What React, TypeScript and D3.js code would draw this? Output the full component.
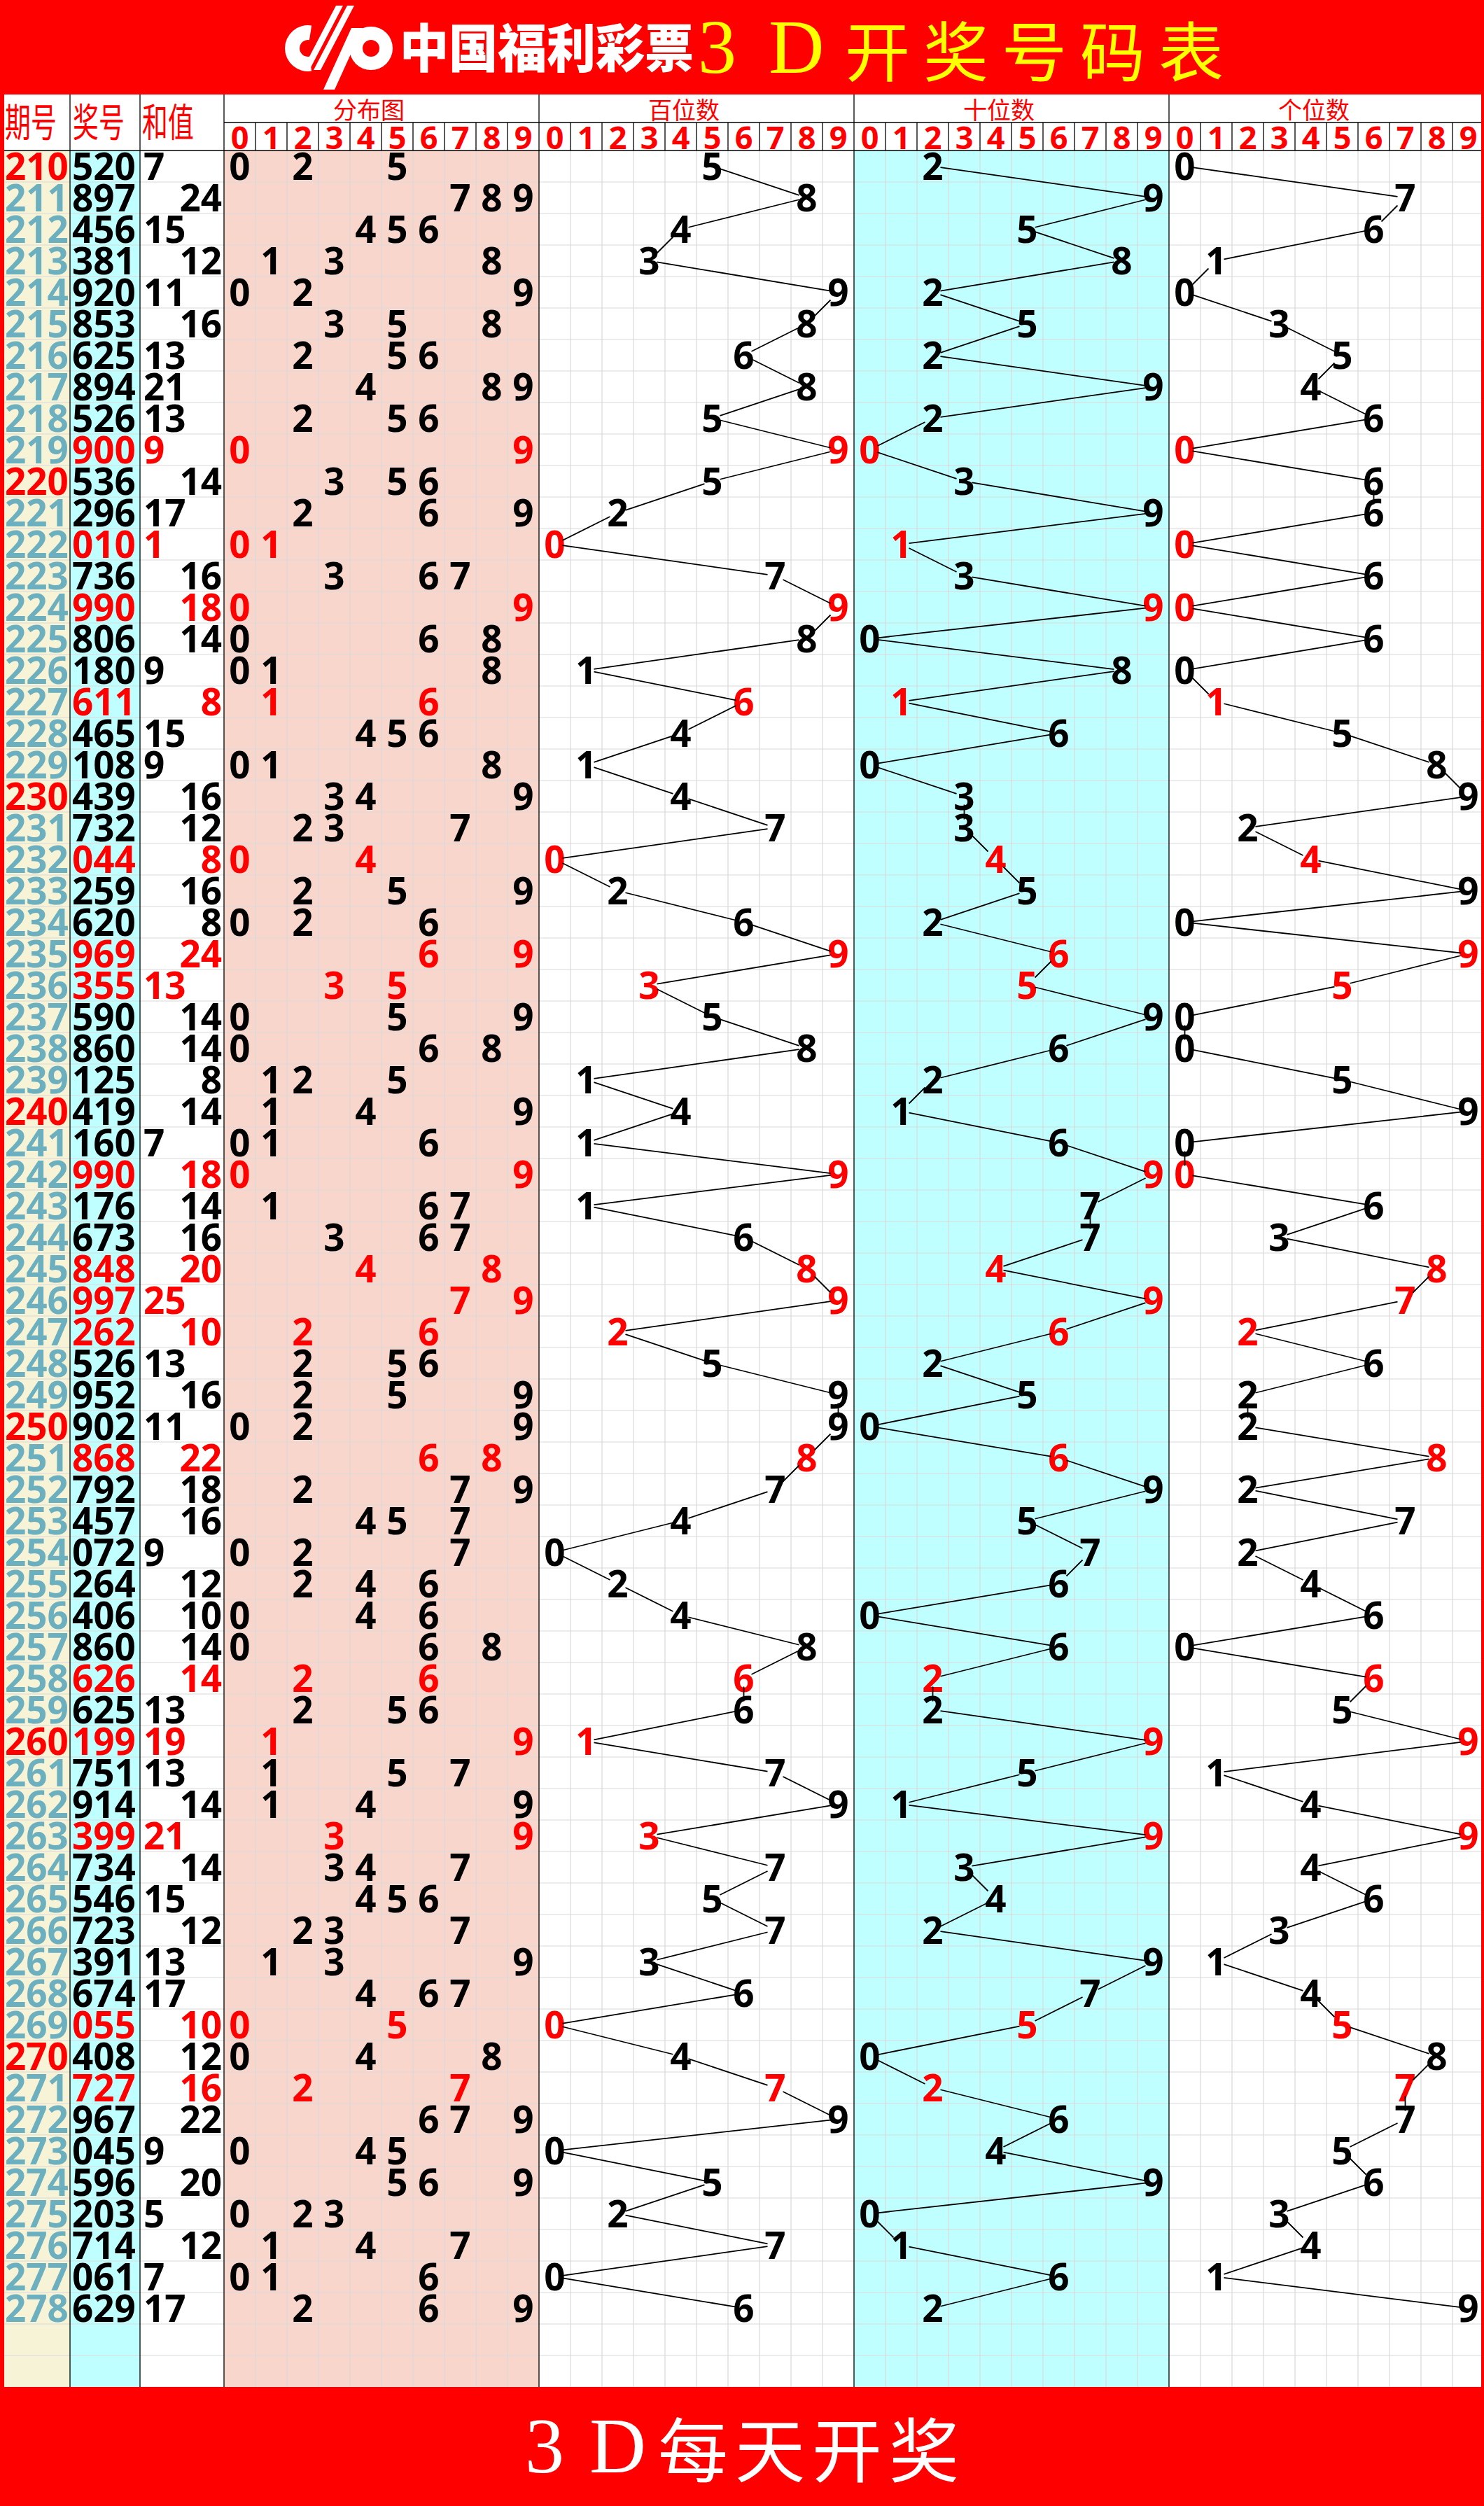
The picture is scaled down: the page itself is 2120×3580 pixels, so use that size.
import React from "react";
import * as d3 from "d3";

// 3D draw table, periods 210 - 278
const periods = [
  210, 211, 212, 213, 214, 215, 216, 217, 218, 219,
  220, 221, 222, 223, 224, 225, 226, 227, 228, 229,
  230, 231, 232, 233, 234, 235, 236, 237, 238, 239,
  240, 241, 242, 243, 244, 245, 246, 247, 248, 249,
  250, 251, 252, 253, 254, 255, 256, 257, 258, 259,
  260, 261, 262, 263, 264, 265, 266, 267, 268, 269,
  270, 271, 272, 273, 274, 275, 276, 277, 278,
];

const draws = [
  "520", "897", "456", "381", "920", "853", "625", "894", "526", "900",
  "536", "296", "010", "736", "990", "806", "180", "611", "465", "108",
  "439", "732", "044", "259", "620", "969", "355", "590", "860", "125",
  "419", "160", "990", "176", "673", "848", "997", "262", "526", "952",
  "902", "868", "792", "457", "072", "264", "406", "860", "626", "625",
  "199", "751", "914", "399", "734", "546", "723", "391", "674", "055",
  "408", "727", "967", "045", "596", "203", "714", "061", "629",
];

const sums = [
  7, 24, 15, 12, 11, 16, 13, 21, 13, 9,
  14, 17, 1, 16, 18, 14, 9, 8, 15, 9,
  16, 12, 8, 16, 8, 24, 13, 14, 14, 8,
  14, 7, 18, 14, 16, 20, 25, 10, 13, 16,
  11, 22, 18, 16, 9, 12, 10, 14, 14, 13,
  19, 13, 14, 21, 14, 15, 12, 13, 17, 10,
  12, 16, 22, 9, 20, 5, 12, 7, 17,
];

const digitLabels = ["0", "1", "2", "3", "4", "5", "6", "7", "8", "9"];
const sectionTitles = ["分布图", "百位数", "十位数", "个位数"];
const headLabels = ["期号", "奖号", "和值"];

const W = 2120;
const H = 3580;
const BODY_Y0 = 215;
const BODY_Y1 = 3410;
const EMPTY_ROWS = 2;

const RED = "#FF0000";
const TEAL = "#6CB0C0";
const NUM_FONT = "'Open Sans', 'Noto Sans', sans-serif";
const CJK_FONT = "'Noto Sans CJK SC', sans-serif";
const SERIF = "'Liberation Serif', serif";

const y = d3
  .scaleBand<number>()
  .domain(d3.range(periods.length + EMPTY_ROWS))
  .range([BODY_Y0, BODY_Y1]);

const sectionX0 = [320, 770, 1220, 1670];
const sectionFill = ["#F9D6CC", "#FFFFFF", "#C0FFFF", "#FFFFFF"];
const xs = sectionX0.map((x0) =>
  d3.scaleBand<string>().domain(digitLabels).range([x0, x0 + 450])
);

const isPair = (d: string) => new Set(d.split("")).size === 2;

// clip a centre-to-centre segment so it starts / ends at the glyph box
const clip = (p: number[], q: number[], hw = 11, hh = 12) => {
  const dx = q[0] - p[0];
  const dy = q[1] - p[1];
  const t = Math.min(dx ? hw / Math.abs(dx) : Infinity, dy ? hh / Math.abs(dy) : Infinity);
  return [p[0] + dx * t, p[1] + dy * t, q[0] - dx * t, q[1] - dy * t];
};

const Logo = () => {
  const ring = d3.arc();
  const cPath = ring({ innerRadius: 12, outerRadius: 33, startAngle: Math.PI * 0.95, endAngle: Math.PI * 2.05 }) || "";
  const pPath = ring({ innerRadius: 12, outerRadius: 31, startAngle: 0, endAngle: Math.PI * 2 }) || "";
  return (
    <g fill="#fff">
      <path d={cPath} transform="translate(440,69)" />
      <polygon points="480,8 490,8 442,100 432,100" />
      <polygon points="496,8 506,8 458,100 448,100" />
      <path d={pPath} transform="translate(530,69)" fillRule="evenodd" />
      <polygon points="502,40 518,40 478,128 462,128" />
    </g>
  );
};

const App = () => {
  const bw = y.bandwidth();
  const cw = xs[0].bandwidth();

  const trends = [1, 2, 3].map((k) => {
    const pos = k - 1;
    const pts = draws.map((d, i) => [xs[k](d[pos])! + cw / 2, y(i)! + bw / 2]);
    return d3.pairs(pts).map(([p, q]) => clip(p, q));
  });

  return (
    <svg
      width={W}
      height={H}
      viewBox={`0 0 ${W} ${H}`}
      style={{ position: "absolute", left: 0, top: 0, display: "block", background: "#fff" }}
    >
      {/* top banner */}
      <rect x={0} y={0} width={W} height={135} fill={RED} />
      <Logo />
      <text x={571} y={96} fill="#fff" fontFamily={CJK_FONT} fontWeight={900} fontSize={74} textLength={420} lengthAdjust="spacingAndGlyphs">
        中国福利彩票
      </text>
      <g fill="#FFFF00">
        <text x={997} y={104} fontFamily={SERIF} fontSize={110}>3</text>
        <text x={1098} y={104} fontFamily={SERIF} fontSize={110}>D</text>
        <text x={1207} y={109} fontFamily={CJK_FONT} fontSize={93} letterSpacing={19}>开奖号码表</text>
      </g>

      {/* column backgrounds */}
      <rect x={0} y={135} width={W} height={BODY_Y0 - 135} fill="#fff" />
      <rect x={0} y={BODY_Y0} width={100} height={BODY_Y1 - BODY_Y0} fill="#F7F3D6" />
      <rect x={100} y={BODY_Y0} width={100} height={BODY_Y1 - BODY_Y0} fill="#C0FFFF" />
      <rect x={200} y={BODY_Y0} width={120} height={BODY_Y1 - BODY_Y0} fill="#fff" />
      {sectionX0.map((x0, k) => (
        <rect key={k} x={x0} y={BODY_Y0} width={450} height={BODY_Y1 - BODY_Y0} fill={sectionFill[k]} />
      ))}

      {/* light grid */}
      <g stroke="#D9D9D9" strokeWidth={1.2}>
        {y.domain().map((i) => (
          <line key={i} x1={0} x2={W} y1={y(i)! + bw} y2={y(i)! + bw} />
        ))}
        {xs.map((sx, k) =>
          digitLabels.slice(1).map((d) => (
            <line key={`${k}-${d}`} x1={sx(d)} x2={sx(d)} y1={BODY_Y0} y2={BODY_Y1} />
          ))
        )}
      </g>

      {/* header lines */}
      <g stroke="#000" strokeWidth={1.3}>
        <line x1={0} x2={W} y1={BODY_Y0} y2={BODY_Y0} />
        <line x1={320} x2={W} y1={175} y2={175} />
        {[100, 200, ...sectionX0].map((x) => (
          <line key={x} x1={x} x2={x} y1={135} y2={BODY_Y1} />
        ))}
        {xs.map((sx, k) =>
          digitLabels.slice(1).map((d) => (
            <line key={`${k}-${d}`} x1={sx(d)} x2={sx(d)} y1={175} y2={BODY_Y0} />
          ))
        )}
      </g>

      {/* header text */}
      <g fill={RED} fontFamily={CJK_FONT}>
        {headLabels.map((t, i) => (
          <text key={t} transform={`translate(${[7, 104, 203][i]},195) scale(0.9,1.35)`} fontSize={41}>
            {t}
          </text>
        ))}
        {sectionTitles.map((t, k) => (
          <text key={t} x={sectionX0[k] + 207} y={170} fontSize={34} textAnchor="middle">
            {t}
          </text>
        ))}
      </g>
      <g fill={RED} fontFamily={NUM_FONT} fontWeight={700} fontSize={45} textAnchor="middle">
        {xs.map((sx, k) =>
          digitLabels.map((d) => (
            <text key={`${k}-${d}`} x={sx(d)! + cw / 2} y={213}>
              {d}
            </text>
          ))
        )}
      </g>

      {/* rows */}
      <g fontFamily={NUM_FONT} fontWeight={700} fontSize={53}>
        {draws.map((d, i) => {
          const base = y(i)! + 42;
          const pair = isPair(d);
          const col = pair ? RED : "#000";
          const s = sums[i];
          const uniq = Array.from(new Set(d.split(""))).sort();
          return (
            <g key={i}>
              <text x={7} y={base} fill={periods[i] % 10 === 0 ? RED : TEAL}>
                {periods[i]}
              </text>
              <text x={103} y={base} fill={col}>{d}</text>
              <text x={s % 2 ? 205 : 317} y={base} fill={col} textAnchor={s % 2 ? "start" : "end"}>
                {s}
              </text>
              {uniq.map((u) => (
                <text key={u} x={xs[0](u)! + cw / 2} y={base} fill={col} textAnchor="middle">
                  {u}
                </text>
              ))}
              {[1, 2, 3].map((k) => (
                <text key={k} x={xs[k](d[k - 1])! + cw / 2} y={base} fill={col} textAnchor="middle">
                  {d[k - 1]}
                </text>
              ))}
            </g>
          );
        })}
      </g>

      {/* trend lines */}
      <g stroke="#000" strokeWidth={1.8}>
        {trends.map((segs, k) =>
          segs.map((s, j) => <line key={`${k}-${j}`} x1={s[0]} y1={s[1]} x2={s[2]} y2={s[3]} />)
        )}
      </g>

      {/* side borders and footer */}
      <rect x={0} y={135} width={6} height={BODY_Y1 - 135} fill={RED} />
      <rect x={W - 4} y={135} width={4} height={BODY_Y1 - 135} fill={RED} />
      <rect x={0} y={BODY_Y1} width={W} height={H - BODY_Y1} fill={RED} />
      <g fill="#fff">
        <text x={750} y={3532} fontFamily={SERIF} fontSize={112}>3</text>
        <text x={842} y={3532} fontFamily={SERIF} fontSize={112}>D</text>
        <text x={940} y={3538} fontFamily={CJK_FONT} fontSize={100} letterSpacing={10}>每天开奖</text>
      </g>
    </svg>
  );
};

export default App;
